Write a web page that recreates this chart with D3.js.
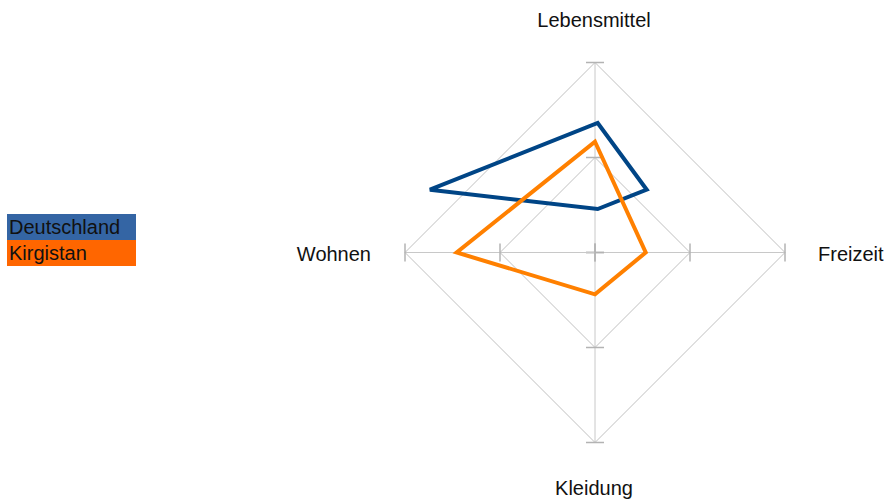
<!DOCTYPE html>
<html>
<head>
<meta charset="utf-8">
<script src="https://cdn.jsdelivr.net/npm/d3@7"></script>
<style>
  body { margin: 0; background: #fff; }
  text { font-family: "Liberation Sans", Arial, sans-serif; }
</style>
</head>
<body>
<svg id="svg" width="887" height="499"></svg>
<script>
const categories = ["Lebensmittel", "Freizeit", "Kleidung", "Wohnen"];
const deutschland = [35.1, 25.8, 10.2, 88.3];
const kirgistan = [58.3, 26.7, 22.0, 72.8];
const ringTicks = [0, 50, 100];
const seriesNames = ["Deutschland", "Kirgistan"];

const cx = 595, cy = 252.5, R = 190;
const svg = d3.select("#svg");

const r = d3.scaleLinear().domain([0, 100]).range([0, R]);
const angle = d3.scaleBand().domain(categories).range([0, 2 * Math.PI]).align(0).paddingInner(0).paddingOuter(0);
const ang = c => angle(c);
const px = (c, v) => Math.sin(ang(c)) * r(v);
const py = (c, v) => -Math.cos(ang(c)) * r(v);

const g = svg.append("g").attr("transform", `translate(${cx},${cy})`);

// rings
ringTicks.filter(t => t > 0).forEach(t => {
  g.append("path")
    .attr("d", d3.line().x(c => px(c, t)).y(c => py(c, t)).curve(d3.curveLinearClosed)(categories))
    .attr("fill", "none")
    .attr("stroke", "#c0c0c0")
    .attr("stroke-width", 1);
});

// spokes
categories.forEach(c => {
  g.append("line")
    .attr("x1", 0).attr("y1", 0)
    .attr("x2", px(c, 100)).attr("y2", py(c, 100))
    .attr("stroke", "#c8c8c8");
  ringTicks.forEach(t => {
    const a = ang(c);
    const ox = Math.cos(a) * 9, oy = Math.sin(a) * 9;
    g.append("line")
      .attr("x1", px(c, t) - ox).attr("y1", py(c, t) - oy)
      .attr("x2", px(c, t) + ox).attr("y2", py(c, t) + oy)
      .attr("stroke", "#b3b3b3")
      .attr("stroke-width", 1.5);
  });
});

// category labels
const labelPos = {
  Lebensmittel: { x: -1, y: -226, anchor: "middle" },
  Freizeit: { x: 223, y: 8.5, anchor: "start" },
  Kleidung: { x: -1, y: 242, anchor: "middle" },
  Wohnen: { x: -224, y: 8.5, anchor: "end" }
};
categories.forEach(c => {
  const p = labelPos[c];
  g.append("text")
    .attr("x", p.x).attr("y", p.y)
    .attr("text-anchor", p.anchor)
    .attr("font-size", 20)
    .attr("fill", "#111")
    .text(c);
});

// series
const series = [
  { name: seriesNames[0], values: deutschland, color: "#004586", dx: 2.7, dy: -62.8 },
  { name: seriesNames[1], values: kirgistan, color: "#ff8000", dx: 0, dy: 0 }
];
const radarLine = d3.line().curve(d3.curveLinearClosed);
series.forEach(s => {
  const pts = categories.map((c, i) => [px(c, s.values[i]), py(c, s.values[i])]);
  g.append("path")
    .attr("transform", `translate(${s.dx},${s.dy})`)
    .attr("d", radarLine(pts))
    .attr("fill", "none")
    .attr("stroke", s.color)
    .attr("stroke-width", 4)
    .attr("stroke-linejoin", "miter");
});

// legend
const legendColors = ["#3465a4", "#ff6600"];
const legend = svg.append("g").attr("transform", "translate(7,214)");
seriesNames.forEach((n, i) => {
  legend.append("rect")
    .attr("x", 0).attr("y", i * 26)
    .attr("width", 129).attr("height", 26)
    .attr("fill", legendColors[i]);
  legend.append("text")
    .attr("x", 2).attr("y", i * 26 + 20)
    .attr("font-size", 20)
    .attr("fill", "#111")
    .text(n);
});
</script>
</body>
</html>
